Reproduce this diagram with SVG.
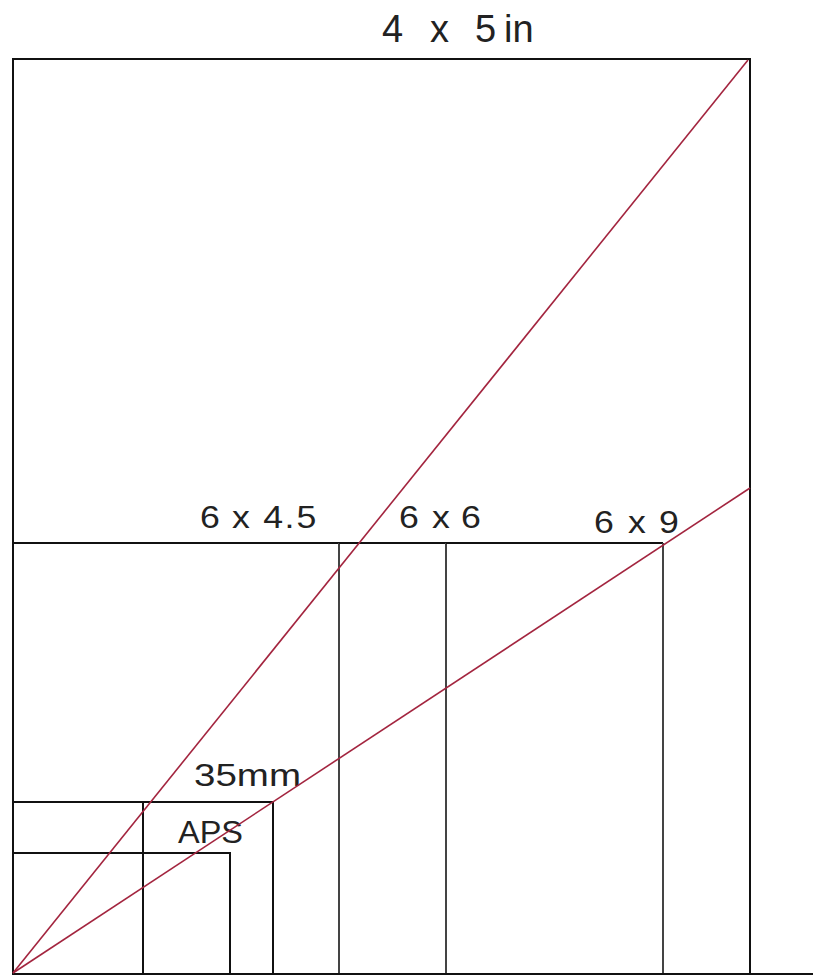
<svg xmlns="http://www.w3.org/2000/svg" width="813" height="977" viewBox="0 0 813 977">
<style>
.k{stroke:#111;stroke-width:2;fill:none}
.g{stroke:#444;stroke-width:2;fill:none}
.r{stroke:#a3253f;stroke-width:1.6;fill:none}
text{font-family:"Liberation Sans",Arial,sans-serif;fill:#222}
.m{font-size:31px}
</style>
<rect width="813" height="977" fill="#fff"/>
<g id="format-4x5">
<path class="k" d="M13,973 V59 H750 V973"/>
<text y="42" font-size="38"><tspan x="382">4</tspan><tspan x="430">x</tspan><tspan x="475">5</tspan><tspan x="504">in</tspan></text>
</g>
<g id="format-6x45">
<path class="k" d="M13,543 H339"/>
<path class="g" d="M339,543 V973"/>
<text class="m" transform="translate(200,528) scale(1.15,1)"><tspan x="0">6</tspan><tspan x="27.8">x</tspan><tspan x="55">4</tspan><tspan x="73.5">.</tspan><tspan x="84">5</tspan></text>
</g>
<g id="format-6x6">
<path class="k" d="M339,543 H446"/>
<path class="g" d="M446,543 V973"/>
<text class="m" transform="translate(399,528) scale(1.15,1)"><tspan x="0">6</tspan><tspan x="28.7">x</tspan><tspan x="53.9">6</tspan></text>
</g>
<g id="format-6x9">
<path class="k" d="M446,543 H663"/>
<path class="g" d="M663,543 V973"/>
<text class="m" transform="translate(594,533) scale(1.15,1)"><tspan x="0">6</tspan><tspan x="29.6">x</tspan><tspan x="56.5">9</tspan></text>
</g>
<g id="format-35mm">
<path class="k" d="M13,802 H273 V973 M143,802 V973"/>
<text x="194" y="786" font-size="32" textLength="107" lengthAdjust="spacingAndGlyphs">35mm</text>
</g>
<g id="format-aps">
<path class="k" d="M13,853 H230 V973"/>
<text x="178" y="843" font-size="32" textLength="65" lengthAdjust="spacingAndGlyphs">APS</text>
</g>
<g id="baseline">
<path class="k" d="M12,974 H813"/>
</g>
<g id="connectors">
<line class="r" x1="13" y1="973" x2="748" y2="60"/>
<line class="r" x1="13" y1="973" x2="750" y2="488"/>
</g>
</svg>
